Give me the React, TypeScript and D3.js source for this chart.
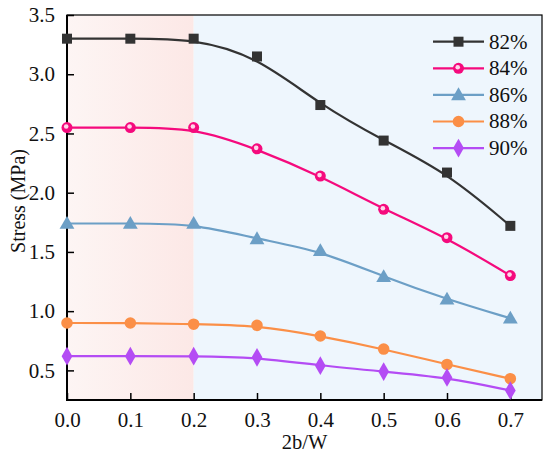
import { useEffect, useRef } from "react";
import * as d3 from "d3";

const ratios = [0, 0.1, 0.2, 0.3, 0.4, 0.5, 0.6, 0.7];
const seriesNames = ["82%", "84%", "86%", "88%", "90%"];
const s82 = [3.3, 3.3, 3.3, 3.15, 2.74, 2.44, 2.17, 1.72];
const s84 = [2.55, 2.55, 2.55, 2.37, 2.14, 1.86, 1.62, 1.3];
const s86 = [1.74, 1.74, 1.74, 1.61, 1.51, 1.29, 1.1, 0.94];
const s88 = [0.9, 0.9, 0.89, 0.88, 0.79, 0.68, 0.55, 0.43];
const s90 = [0.62, 0.62, 0.62, 0.61, 0.54, 0.49, 0.44, 0.33];
const xTicks = [0, 0.1, 0.2, 0.3, 0.4, 0.5, 0.6, 0.7];
const yTicks = [0.5, 1.0, 1.5, 2.0, 2.5, 3.0, 3.5];

const colors = ["#333333", "#f50a7d", "#6c9fc6", "#fb8f47", "#b44cf4"];
const shapes = ["square", "ball", "triangle", "circle", "diamond"];

const App = () => {
  const svgRef = useRef(null);

  useEffect(() => {
    const w = 550;
    const h = 459;
    const m = { left: 67, right: 8, top: 15, bottom: 59 };
    const svg = d3.select(svgRef.current).attr("width", w).attr("height", h);
    svg.selectAll("*").remove();

    const x = d3.scaleLinear().domain([0, 0.75]).range([m.left, w - m.right]);
    const y = d3.scaleLinear().domain([0.25, 3.5]).range([h - m.bottom, m.top]);

    const defs = svg.append("defs");
    const grad = defs.append("linearGradient").attr("id", "pinkGrad");
    grad.append("stop").attr("offset", "0%").attr("stop-color", "#fdf5f4");
    grad.append("stop").attr("offset", "100%").attr("stop-color", "#fce8e6");

    // shaded zones
    svg
      .append("rect")
      .attr("x", x(0))
      .attr("y", y(3.5))
      .attr("width", x(0.2) - x(0))
      .attr("height", y(0.25) - y(3.5))
      .attr("fill", "url(#pinkGrad)");
    svg
      .append("rect")
      .attr("x", x(0.2))
      .attr("y", y(3.5))
      .attr("width", x(0.75) - x(0.2))
      .attr("height", y(0.25) - y(3.5))
      .attr("fill", "#eef6fd");

    // axes
    const xAxis = d3
      .axisBottom(x)
      .tickValues(xTicks)
      .tickFormat(d3.format(".1f"))
      .tickSizeInner(-7)
      .tickSizeOuter(0)
      .tickPadding(12);
    const yAxis = d3
      .axisLeft(y)
      .tickValues(yTicks)
      .tickFormat(d3.format(".1f"))
      .tickSizeInner(-7)
      .tickSizeOuter(0)
      .tickPadding(12);

    const gx = svg.append("g").attr("transform", `translate(0,${y(0.25)})`).call(xAxis);
    const gy = svg.append("g").attr("transform", `translate(${x(0)},0)`).call(yAxis);
    [gx, gy].forEach((g) => {
      g.attr("font-family", null).attr("font-size", null);
      g.select(".domain").remove();
      g.selectAll("line").attr("stroke", "#000").attr("stroke-width", 1.5);
      g.selectAll("text").attr("font-size", 21).attr("fill", "#111");
    });

    // frame
    svg
      .append("rect")
      .attr("x", x(0))
      .attr("y", y(3.5))
      .attr("width", x(0.75) - x(0))
      .attr("height", y(0.25) - y(3.5))
      .attr("fill", "none")
      .attr("stroke", "#000")
      .attr("stroke-width", 1.2);
    svg
      .append("path")
      .attr("d", `M${x(0)},${y(3.5)}V${y(0.25)}H${x(0.75)}`)
      .attr("fill", "none")
      .attr("stroke", "#000")
      .attr("stroke-width", 2);

    // labels
    svg
      .append("text")
      .attr("x", (x(0) + x(0.75)) / 2)
      .attr("y", 449)
      .attr("text-anchor", "middle")
      .attr("font-size", 20.5)
      .attr("fill", "#111")
      .text("2b/W");
    svg
      .append("text")
      .attr("transform", `translate(25,201) rotate(-90)`)
      .attr("text-anchor", "middle")
      .attr("font-size", 20)
      .attr("fill", "#111")
      .text("Stress (MPa)");

    const drawMarker = (g: any, shape: string, cx: number, cy: number, color: string) => {
      if (shape === "square") {
        g.append("rect")
          .attr("x", cx - 5)
          .attr("y", cy - 5)
          .attr("width", 10)
          .attr("height", 10)
          .attr("fill", color);
      } else if (shape === "ball") {
        g.append("circle").attr("cx", cx).attr("cy", cy).attr("r", 5.5).attr("fill", color);
        g.append("circle")
          .attr("cx", cx - 0.8)
          .attr("cy", cy - 1)
          .attr("r", 2.3)
          .attr("fill", "#ffd6ea");
      } else {
        const sym =
          shape === "triangle"
            ? d3.symbolTriangle
            : shape === "diamond"
            ? d3.symbolDiamond
            : d3.symbolCircle;
        const size = shape === "triangle" ? 95 : shape === "diamond" ? 100 : 105;
        g.append("path")
          .attr("d", d3.symbol().type(sym).size(size)())
          .attr("transform", `translate(${cx},${cy + (shape === "triangle" ? 1 : 0)})`)
          .attr("fill", color);
      }
    };

    const allSeries = [s82, s84, s86, s88, s90];
    const line = d3
      .line<number>()
      .x((_, i) => x(ratios[i]))
      .y((d) => y(d))
      .curve(d3.curveBasis);

    allSeries.forEach((vals, si) => {
      const g = svg.append("g");
      g.append("path")
        .attr("d", line(vals))
        .attr("fill", "none")
        .attr("stroke", colors[si])
        .attr("stroke-width", 2.2);
      vals.forEach((v, i) => drawMarker(g, shapes[si], x(ratios[i]), y(v), colors[si]));
    });

    // legend
    const lg = svg.append("g");
    seriesNames.forEach((name, i) => {
      const cy = 41.7 + i * 26.6;
      lg.append("line")
        .attr("x1", 433)
        .attr("x2", 484)
        .attr("y1", cy)
        .attr("y2", cy)
        .attr("stroke", colors[i])
        .attr("stroke-width", 2.2);
      drawMarker(lg, shapes[i], 458.5, cy, colors[i]);
      lg.append("text")
        .attr("x", 489)
        .attr("y", cy + 6.8)
        .attr("font-size", 21)
        .attr("fill", "#111")
        .text(name);
    });
  }, []);

  return (
    <div style={{ position: "absolute", left: 0, top: 0 }}>
      <svg
        ref={svgRef}
        style={{ display: "block", background: "#fff", fontFamily: "Liberation Serif" }}
      />
    </div>
  );
};

export default App;
